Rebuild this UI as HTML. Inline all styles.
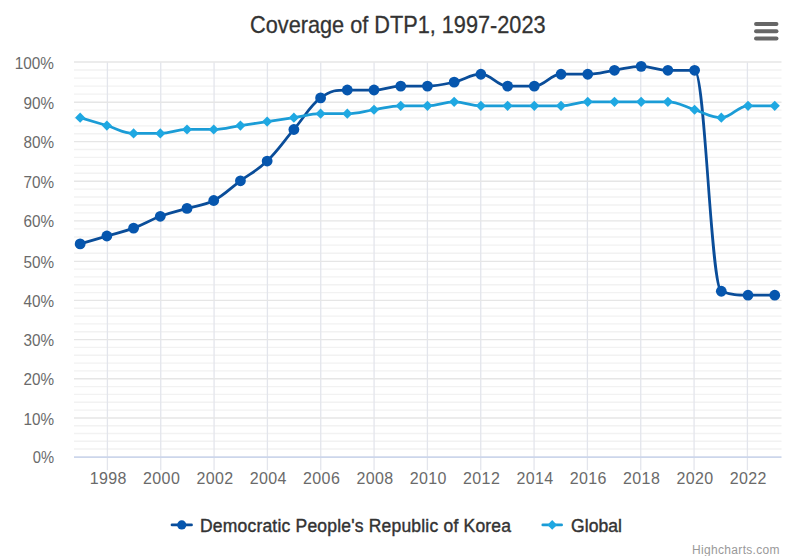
<!DOCTYPE html>
<html lang="en"><head><meta charset="utf-8"><title>Coverage of DTP1, 1997-2023</title>
<style>html,body{margin:0;padding:0;background:#fff}body{width:800px;height:556px;overflow:hidden}svg{display:block}text{font-family:"Liberation Sans",Arial,sans-serif}</style></head><body>
<svg width="800" height="556" viewBox="0 0 800 556">
<rect width="800" height="556" fill="#ffffff"/>
<g stroke="#f2f2f2" stroke-width="1.35" fill="none">
<path d="M 74.0 449.04 H 781.5"/>
<path d="M 74.0 441.28 H 781.5"/>
<path d="M 74.0 433.52 H 781.5"/>
<path d="M 74.0 425.76 H 781.5"/>
<path d="M 74.0 410.14 H 781.5"/>
<path d="M 74.0 402.28 H 781.5"/>
<path d="M 74.0 394.42 H 781.5"/>
<path d="M 74.0 386.56 H 781.5"/>
<path d="M 74.0 370.88 H 781.5"/>
<path d="M 74.0 363.06 H 781.5"/>
<path d="M 74.0 355.24 H 781.5"/>
<path d="M 74.0 347.42 H 781.5"/>
<path d="M 74.0 331.76 H 781.5"/>
<path d="M 74.0 323.92 H 781.5"/>
<path d="M 74.0 316.08 H 781.5"/>
<path d="M 74.0 308.24 H 781.5"/>
<path d="M 74.0 292.58 H 781.5"/>
<path d="M 74.0 284.76 H 781.5"/>
<path d="M 74.0 276.94 H 781.5"/>
<path d="M 74.0 269.12 H 781.5"/>
<path d="M 74.0 253.20 H 781.5"/>
<path d="M 74.0 245.10 H 781.5"/>
<path d="M 74.0 237.00 H 781.5"/>
<path d="M 74.0 228.90 H 781.5"/>
<path d="M 74.0 212.88 H 781.5"/>
<path d="M 74.0 204.96 H 781.5"/>
<path d="M 74.0 197.04 H 781.5"/>
<path d="M 74.0 189.12 H 781.5"/>
<path d="M 74.0 173.28 H 781.5"/>
<path d="M 74.0 165.36 H 781.5"/>
<path d="M 74.0 157.44 H 781.5"/>
<path d="M 74.0 149.52 H 781.5"/>
<path d="M 74.0 133.72 H 781.5"/>
<path d="M 74.0 125.84 H 781.5"/>
<path d="M 74.0 117.96 H 781.5"/>
<path d="M 74.0 110.08 H 781.5"/>
<path d="M 74.0 94.16 H 781.5"/>
<path d="M 74.0 86.12 H 781.5"/>
<path d="M 74.0 78.08 H 781.5"/>
<path d="M 74.0 70.04 H 781.5"/>
</g>
<g stroke="#e3e5ec" stroke-width="1.3" fill="none">
<path d="M 107.40 62.2 V 470.3"/>
<path d="M 160.73 62.2 V 470.3"/>
<path d="M 214.07 62.2 V 470.3"/>
<path d="M 267.40 62.2 V 470.3"/>
<path d="M 320.74 62.2 V 470.3"/>
<path d="M 374.07 62.2 V 470.3"/>
<path d="M 427.40 62.2 V 470.3"/>
<path d="M 480.74 62.2 V 470.3"/>
<path d="M 534.07 62.2 V 470.3"/>
<path d="M 587.41 62.2 V 470.3"/>
<path d="M 640.74 62.2 V 470.3"/>
<path d="M 694.07 62.2 V 470.3"/>
<path d="M 747.41 62.2 V 470.3"/>
</g>
<g stroke="#e6e6e6" stroke-width="1.35" fill="none">
<path d="M 74.0 418.00 H 781.5"/>
<path d="M 74.0 378.70 H 781.5"/>
<path d="M 74.0 339.60 H 781.5"/>
<path d="M 74.0 300.40 H 781.5"/>
<path d="M 74.0 261.30 H 781.5"/>
<path d="M 74.0 220.80 H 781.5"/>
<path d="M 74.0 181.20 H 781.5"/>
<path d="M 74.0 141.60 H 781.5"/>
<path d="M 74.0 102.20 H 781.5"/>
<path d="M 74.0 62.00 H 781.5"/>
</g>
<path d="M 74.0 457.10 H 781.5" stroke="#ccd6eb" stroke-width="1.9" fill="none"/>
<text x="397.8" y="33" text-anchor="middle" font-size="24" fill="#333333" stroke="#333333" stroke-width="0.3" textLength="295.5" lengthAdjust="spacingAndGlyphs">Coverage of DTP1, 1997-2023</text>
<g stroke="#666666" stroke-width="3.9" stroke-linecap="round" fill="none">
<path d="M 756 24 H 776.5"/>
<path d="M 756 31.3 H 776.5"/>
<path d="M 756 38.5 H 776.5"/>
</g>
<g font-size="16" fill="#6a6a6a" text-anchor="end">
<text x="54" y="463.3" textLength="21.3" lengthAdjust="spacingAndGlyphs">0%</text>
<text x="54" y="424.5" textLength="30.6" lengthAdjust="spacingAndGlyphs">10%</text>
<text x="54" y="385.2" textLength="30.6" lengthAdjust="spacingAndGlyphs">20%</text>
<text x="54" y="346.1" textLength="30.6" lengthAdjust="spacingAndGlyphs">30%</text>
<text x="54" y="306.9" textLength="30.6" lengthAdjust="spacingAndGlyphs">40%</text>
<text x="54" y="267.8" textLength="30.6" lengthAdjust="spacingAndGlyphs">50%</text>
<text x="54" y="227.3" textLength="30.6" lengthAdjust="spacingAndGlyphs">60%</text>
<text x="54" y="187.7" textLength="30.6" lengthAdjust="spacingAndGlyphs">70%</text>
<text x="54" y="148.1" textLength="30.6" lengthAdjust="spacingAndGlyphs">80%</text>
<text x="54" y="108.7" textLength="30.6" lengthAdjust="spacingAndGlyphs">90%</text>
<text x="54" y="68.5" textLength="39.2" lengthAdjust="spacingAndGlyphs">100%</text>
</g>
<g font-size="16" fill="#6a6a6a" text-anchor="middle">
<text x="108.1" y="483.8" textLength="36.8" lengthAdjust="spacing">1998</text>
<text x="161.4" y="483.8" textLength="36.8" lengthAdjust="spacing">2000</text>
<text x="214.8" y="483.8" textLength="36.8" lengthAdjust="spacing">2002</text>
<text x="268.1" y="483.8" textLength="36.8" lengthAdjust="spacing">2004</text>
<text x="321.4" y="483.8" textLength="36.8" lengthAdjust="spacing">2006</text>
<text x="374.8" y="483.8" textLength="36.8" lengthAdjust="spacing">2008</text>
<text x="428.1" y="483.8" textLength="36.8" lengthAdjust="spacing">2010</text>
<text x="481.4" y="483.8" textLength="36.8" lengthAdjust="spacing">2012</text>
<text x="534.8" y="483.8" textLength="36.8" lengthAdjust="spacing">2014</text>
<text x="588.1" y="483.8" textLength="36.8" lengthAdjust="spacing">2016</text>
<text x="641.4" y="483.8" textLength="36.8" lengthAdjust="spacing">2018</text>
<text x="694.8" y="483.8" textLength="36.8" lengthAdjust="spacing">2020</text>
<text x="748.1" y="483.8" textLength="36.8" lengthAdjust="spacing">2022</text>
</g>
<path d="M 80.15 243.92 C 80.15 243.92 96.18 239.18 106.87 236.02 C 117.55 232.87 122.89 232.08 133.58 228.13 C 144.27 224.19 149.61 220.24 160.30 216.29 C 170.98 212.35 176.32 211.56 187.01 208.40 C 197.70 205.25 203.04 206.03 213.72 200.51 C 224.41 194.99 229.75 188.67 240.44 180.78 C 251.13 172.89 256.47 171.31 267.15 161.05 C 277.84 150.79 283.18 142.11 293.87 129.48 C 304.56 116.85 309.90 105.81 320.59 97.91 C 331.27 90.02 336.61 90.02 347.30 90.02 C 357.99 90.02 363.33 90.02 374.01 90.02 C 384.70 90.02 390.04 86.08 400.73 86.08 C 411.42 86.08 416.76 86.08 427.45 86.08 C 438.13 86.08 443.47 84.50 454.16 82.13 C 464.85 79.76 470.19 74.24 480.88 74.24 C 491.56 74.24 496.90 86.08 507.59 86.08 C 518.28 86.08 523.62 86.08 534.30 86.08 C 544.99 86.08 550.33 74.24 561.02 74.24 C 571.71 74.24 577.05 74.24 587.74 74.24 C 598.42 74.24 603.76 71.87 614.45 70.29 C 625.14 68.71 630.48 66.35 641.16 66.35 C 651.85 66.35 657.19 70.29 667.88 70.29 C 678.57 70.29 683.91 70.29 694.60 70.29 C 705.28 70.29 710.62 287.32 721.31 291.27 C 732.00 295.21 737.34 295.21 748.02 295.21 C 758.71 295.21 774.74 295.21 774.74 295.21" stroke="#0a4d99" stroke-width="2.75" stroke-linejoin="round" stroke-linecap="round" fill="none"/>
<g fill="#0656ae">
<circle cx="80.15" cy="243.92" r="5.4"/>
<circle cx="106.87" cy="236.02" r="5.4"/>
<circle cx="133.58" cy="228.13" r="5.4"/>
<circle cx="160.30" cy="216.29" r="5.4"/>
<circle cx="187.01" cy="208.40" r="5.4"/>
<circle cx="213.72" cy="200.51" r="5.4"/>
<circle cx="240.44" cy="180.78" r="5.4"/>
<circle cx="267.15" cy="161.05" r="5.4"/>
<circle cx="293.87" cy="129.48" r="5.4"/>
<circle cx="320.59" cy="97.91" r="5.4"/>
<circle cx="347.30" cy="90.02" r="5.4"/>
<circle cx="374.01" cy="90.02" r="5.4"/>
<circle cx="400.73" cy="86.08" r="5.4"/>
<circle cx="427.45" cy="86.08" r="5.4"/>
<circle cx="454.16" cy="82.13" r="5.4"/>
<circle cx="480.88" cy="74.24" r="5.4"/>
<circle cx="507.59" cy="86.08" r="5.4"/>
<circle cx="534.30" cy="86.08" r="5.4"/>
<circle cx="561.02" cy="74.24" r="5.4"/>
<circle cx="587.74" cy="74.24" r="5.4"/>
<circle cx="614.45" cy="70.29" r="5.4"/>
<circle cx="641.16" cy="66.35" r="5.4"/>
<circle cx="667.88" cy="70.29" r="5.4"/>
<circle cx="694.60" cy="70.29" r="5.4"/>
<circle cx="721.31" cy="291.27" r="5.4"/>
<circle cx="748.02" cy="295.21" r="5.4"/>
<circle cx="774.74" cy="295.21" r="5.4"/>
</g>
<path d="M 80.15 117.64 C 80.15 117.64 96.18 122.38 106.87 125.54 C 117.55 128.69 122.89 133.43 133.58 133.43 C 144.27 133.43 149.61 133.43 160.30 133.43 C 170.98 133.43 176.32 129.48 187.01 129.48 C 197.70 129.48 203.04 129.48 213.72 129.48 C 224.41 129.48 229.75 127.11 240.44 125.54 C 251.13 123.96 256.47 123.17 267.15 121.59 C 277.84 120.01 283.18 119.22 293.87 117.64 C 304.56 116.07 309.90 113.70 320.59 113.70 C 331.27 113.70 336.61 113.70 347.30 113.70 C 357.99 113.70 363.33 111.33 374.01 109.75 C 384.70 108.17 390.04 105.81 400.73 105.81 C 411.42 105.81 416.76 105.81 427.45 105.81 C 438.13 105.81 443.47 101.86 454.16 101.86 C 464.85 101.86 470.19 105.81 480.88 105.81 C 491.56 105.81 496.90 105.81 507.59 105.81 C 518.28 105.81 523.62 105.81 534.30 105.81 C 544.99 105.81 550.33 105.81 561.02 105.81 C 571.71 105.81 577.05 101.86 587.74 101.86 C 598.42 101.86 603.76 101.86 614.45 101.86 C 625.14 101.86 630.48 101.86 641.16 101.86 C 651.85 101.86 657.19 101.86 667.88 101.86 C 678.57 101.86 683.91 106.60 694.60 109.75 C 705.28 112.91 710.62 117.64 721.31 117.64 C 732.00 117.64 737.34 105.81 748.02 105.81 C 758.71 105.81 774.74 105.81 774.74 105.81" stroke="#1b9cd6" stroke-width="2.75" stroke-linejoin="round" stroke-linecap="round" fill="none"/>
<g fill="#1fa8e2">
<path d="M 80.15 112.54 L 85.25 117.64 L 80.15 122.74 L 75.05 117.64 Z"/>
<path d="M 106.87 120.44 L 111.97 125.54 L 106.87 130.64 L 101.77 125.54 Z"/>
<path d="M 133.58 128.33 L 138.68 133.43 L 133.58 138.53 L 128.48 133.43 Z"/>
<path d="M 160.30 128.33 L 165.40 133.43 L 160.30 138.53 L 155.20 133.43 Z"/>
<path d="M 187.01 124.38 L 192.11 129.48 L 187.01 134.58 L 181.91 129.48 Z"/>
<path d="M 213.72 124.38 L 218.82 129.48 L 213.72 134.58 L 208.62 129.48 Z"/>
<path d="M 240.44 120.44 L 245.54 125.54 L 240.44 130.64 L 235.34 125.54 Z"/>
<path d="M 267.15 116.49 L 272.25 121.59 L 267.15 126.69 L 262.05 121.59 Z"/>
<path d="M 293.87 112.54 L 298.97 117.64 L 293.87 122.74 L 288.77 117.64 Z"/>
<path d="M 320.59 108.60 L 325.69 113.70 L 320.59 118.80 L 315.49 113.70 Z"/>
<path d="M 347.30 108.60 L 352.40 113.70 L 347.30 118.80 L 342.20 113.70 Z"/>
<path d="M 374.01 104.65 L 379.12 109.75 L 374.01 114.85 L 368.91 109.75 Z"/>
<path d="M 400.73 100.71 L 405.83 105.81 L 400.73 110.91 L 395.63 105.81 Z"/>
<path d="M 427.45 100.71 L 432.55 105.81 L 427.45 110.91 L 422.35 105.81 Z"/>
<path d="M 454.16 96.76 L 459.26 101.86 L 454.16 106.96 L 449.06 101.86 Z"/>
<path d="M 480.88 100.71 L 485.98 105.81 L 480.88 110.91 L 475.77 105.81 Z"/>
<path d="M 507.59 100.71 L 512.69 105.81 L 507.59 110.91 L 502.49 105.81 Z"/>
<path d="M 534.30 100.71 L 539.40 105.81 L 534.30 110.91 L 529.20 105.81 Z"/>
<path d="M 561.02 100.71 L 566.12 105.81 L 561.02 110.91 L 555.92 105.81 Z"/>
<path d="M 587.74 96.76 L 592.84 101.86 L 587.74 106.96 L 582.63 101.86 Z"/>
<path d="M 614.45 96.76 L 619.55 101.86 L 614.45 106.96 L 609.35 101.86 Z"/>
<path d="M 641.16 96.76 L 646.26 101.86 L 641.16 106.96 L 636.06 101.86 Z"/>
<path d="M 667.88 96.76 L 672.98 101.86 L 667.88 106.96 L 662.78 101.86 Z"/>
<path d="M 694.60 104.65 L 699.70 109.75 L 694.60 114.85 L 689.50 109.75 Z"/>
<path d="M 721.31 112.54 L 726.41 117.64 L 721.31 122.74 L 716.21 117.64 Z"/>
<path d="M 748.02 100.71 L 753.12 105.81 L 748.02 110.91 L 742.92 105.81 Z"/>
<path d="M 774.74 100.71 L 779.84 105.81 L 774.74 110.91 L 769.64 105.81 Z"/>
</g>
<path d="M 172.0 524.9 H 191.5" stroke="#0a4d99" stroke-width="2.75" stroke-linecap="round"/>
<circle cx="181.75" cy="524.9" r="4.6" fill="#0656ae"/>
<text x="200" y="532" font-size="17.5" fill="#333333" stroke="#333333" stroke-width="0.4" textLength="311" lengthAdjust="spacing">Democratic People's Republic of Korea</text>
<path d="M 542.8 524.9 H 561.6" stroke="#1b9cd6" stroke-width="2.75" stroke-linecap="round"/>
<path d="M 552.2 520.1 L 557.0 524.9 L 552.2 529.6999999999999 L 547.4000000000001 524.9 Z" fill="#1fa8e2"/>
<text x="571.0" y="532" font-size="17.5" fill="#333333" stroke="#333333" stroke-width="0.4" textLength="51" lengthAdjust="spacing">Global</text>
<text x="779.6" y="554.4" text-anchor="end" font-size="12" fill="#999999" textLength="87.6" lengthAdjust="spacing">Highcharts.com</text>
</svg></body></html>
